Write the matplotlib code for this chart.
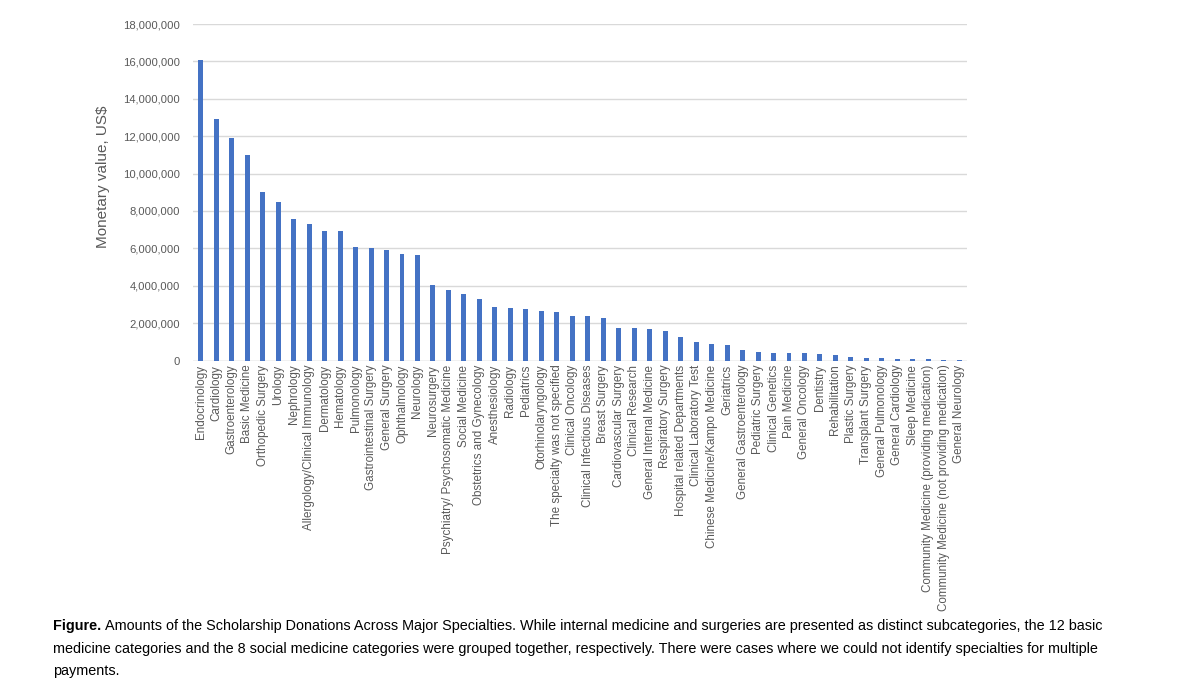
import matplotlib
matplotlib.use("Agg")
import matplotlib.pyplot as plt
from matplotlib.ticker import MultipleLocator, FuncFormatter

plt.rcParams['font.family'] = ['Liberation Sans', 'DejaVu Sans']

specialties = [
    "Endocrinology", "Cardiology", "Gastroenterology", "Basic Medicine",
    "Orthopedic Surgery", "Urology", "Nephrology", "Allergology/Clinical Immunology",
    "Dermatology", "Hematology", "Pulmonology", "Gastrointestinal Surgery",
    "General Surgery", "Ophthalmology", "Neurology", "Neurosurgery",
    "Psychiatry/ Psychosomatic Medicine", "Social Medicine", "Obstetrics and Gynecology",
    "Anesthesiology", "Radiology", "Pediatrics", "Otorhinolaryngology",
    "The specialty was not specified", "Clinical Oncology", "Clinical Infectious Diseases",
    "Breast Surgery", "Cardiovascular Surgery", "Clinical Research",
    "General Internal Medicine", "Respiratory Surgery", "Hospital related Departments",
    "Clinical Laboratory Test", "Chinese Medicine/Kampo Medicine", "Geriatrics",
    "General Gastroenterology", "Pediatric Surgery", "Clinical Genetics", "Pain Medicine",
    "General Oncology", "Dentistry", "Rehabilitation", "Plastic Surgery",
    "Transplant Surgery", "General Pulmonology", "General Cardiology", "Sleep Medicine",
    "Community Medicine (providing medication)",
    "Community Medicine (not providing medication)", "General Neurology",
]

# millions of US$
values_m = [
    16.1, 12.9, 11.92, 10.98, 9.02, 8.48, 7.57, 7.32, 6.92, 6.91,
    6.07, 6.04, 5.89, 5.68, 5.62, 4.02, 3.77, 3.57, 3.27, 2.88,
    2.79, 2.75, 2.63, 2.61, 2.39, 2.36, 2.29, 1.75, 1.74, 1.71,
    1.59, 1.28, 0.99, 0.86, 0.83, 0.56, 0.43, 0.42, 0.42, 0.38,
    0.34, 0.29, 0.18, 0.16, 0.15, 0.09, 0.08, 0.08, 0.04, 0.01,
]
values = [v * 1e6 for v in values_m]

ylabel = "Monetary value, US$"
cap_bold = "Figure."
cap_line1 = ("Amounts of the Scholarship Donations Across Major Specialties. While internal "
             "medicine and surgeries are presented as distinct subcategories, the 12 basic")
cap_line2 = ("medicine categories and the 8 social medicine categories were grouped together, "
             "respectively. There were cases where we could not identify specialties for multiple")
cap_line3 = "payments."

grey = "#595959"

fig = plt.figure(figsize=(11.99, 6.98), dpi=100)
ax = fig.add_axes([0.161, 0.4835, 0.6455, 0.482])

x = range(len(values))
ax.bar(x, values, width=0.32, color="#4472C4", zorder=3)

ax.set_xlim(-0.5, len(values) - 0.5)
ax.set_ylim(0, 18e6)
ax.yaxis.set_major_locator(MultipleLocator(2e6))
ax.yaxis.set_major_formatter(FuncFormatter(lambda v, p: "{:,.0f}".format(v)))
ax.yaxis.grid(True, color="#d9d9d9", linewidth=1, zorder=0)
ax.set_axisbelow(True)
for s in ax.spines.values():
    s.set_visible(False)
ax.axhline(0, color="#d9d9d9", linewidth=1, zorder=2)

ax.set_xticks(list(x))
ax.set_xticklabels(specialties, rotation=90, fontsize=8.4, color=grey)
ax.tick_params(axis="x", length=0, pad=3)
ax.tick_params(axis="y", length=0, pad=9.5, labelsize=8.1, labelcolor=grey)
ax.set_ylabel(ylabel, fontsize=11, color=grey)
ax.yaxis.set_label_coords(-0.107, 0.545)

# caption
fs = 10.4
t = fig.text(53 / 1199, 1 - 626 / 698, cap_bold, fontsize=fs, fontweight="bold",
             va="center", ha="left", color="black")
fig.canvas.draw()
bb = t.get_window_extent(fig.canvas.get_renderer())
fig.text((bb.x1 + 4) / 1199, 1 - 626 / 698, cap_line1, fontsize=fs, va="center", ha="left")
fig.text(53 / 1199, 1 - 649 / 698, cap_line2, fontsize=fs, va="center", ha="left")
fig.text(53 / 1199, 1 - 671 / 698, cap_line3, fontsize=fs, va="center", ha="left")

fig.savefig("out.png", dpi=100)
